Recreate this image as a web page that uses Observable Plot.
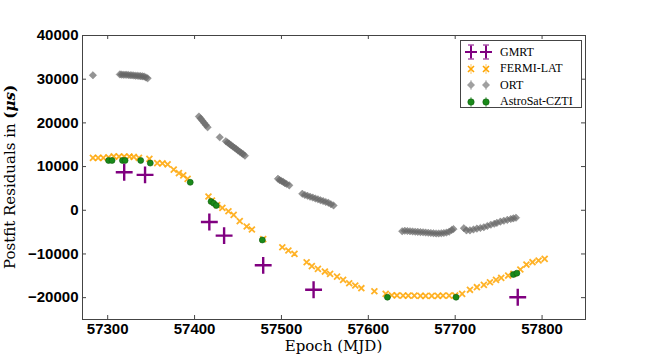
<!DOCTYPE html>
<html>
<head>
<meta charset="utf-8">
<script src="https://cdn.jsdelivr.net/npm/d3@7"></script>
<script src="https://cdn.jsdelivr.net/npm/@observablehq/plot@0.6"></script>
<style>
  body { margin: 0; background: #fff; }
  #wrap { position: relative; width: 650px; height: 355px; }
  #legend { position: absolute; left: 460px; top: 40px; width: 120px; height: 66px;
    border: 1px solid #444; background: #fff; font-family: "Liberation Serif", serif; font-size: 12px; }
  #legend .row { position: absolute; left: 0; height: 16px; display: flex; align-items: center; }
  #legend svg { display: block; }
  #legend span { position: absolute; left: 39px; white-space: nowrap; }
</style>
</head>
<body>
<div id="wrap"></div>
<script>
// ---------- data ----------
const xTicks = [57300, 57400, 57500, 57600, 57700, 57800];
const yTicks = [-20000, -10000, 0, 10000, 20000, 30000, 40000];

const seriesNames = ["GMRT", "FERMI-LAT", "ORT", "AstroSat-CZTI"];

const gmrtMjd = [57319, 57343, 57417, 57434, 57479, 57537, 57772];
const gmrtRes = [8700, 8100, -2700, -5800, -12600, -18200, -19900];

const fermiMjd = [57283, 57289, 57295, 57301, 57307, 57313, 57319, 57325, 57330, 57336,
  57348, 57357, 57363, 57369, 57376, 57382, 57387, 57392,
  57416, 57420, 57426, 57432, 57439, 57445, 57452, 57460, 57466,
  57479, 57501, 57508, 57515, 57529, 57535, 57542, 57550, 57556,
  57564, 57571, 57578, 57585, 57592, 57607, 57620,
  57627, 57633, 57640, 57646, 57653, 57660, 57666, 57673, 57680, 57686, 57693, 57700,
  57708, 57717, 57725, 57733, 57740, 57747, 57753, 57761, 57767, 57775, 57782, 57789, 57796, 57803];
const fermiRes = [12000, 12000, 12000, 12100, 12350, 12300, 12300, 12300, 12200, 12000,
  11780, 10800, 10750, 10500, 9300, 8500, 8000, 7200,
  3150, 2200, 1200, 560, -220, -1040, -2500, -3720, -4400,
  -6600, -8460, -9210, -9970, -11900, -12800, -13400, -14020, -14550,
  -15170, -15930, -16700, -17220, -17840, -18530, -19130,
  -19450, -19500, -19550, -19550, -19550, -19600, -19600, -19600, -19600, -19550, -19550, -19500,
  -19130, -18200, -17610, -17080, -16470, -15920, -15460, -14940, -14550, -13560, -12420, -11890, -11500, -11110];

const ortMjd = [57283,
  57314, 57316, 57318, 57320, 57322, 57324, 57326, 57328, 57330, 57332, 57334, 57336, 57338, 57340, 57342, 57344, 57346,
  57405, 57407, 57409, 57411, 57413, 57415, 57429,
  57436, 57438, 57440, 57442, 57444, 57446, 57448, 57450, 57452, 57454, 57456, 57458,
  57496, 57498, 57500, 57502, 57504, 57506, 57509,
  57524, 57527, 57530, 57533, 57536, 57539, 57542, 57545, 57548, 57551, 57554, 57557, 57560,
  57639, 57642, 57645, 57648, 57651, 57654, 57657, 57660, 57663, 57666, 57669, 57672, 57675, 57678, 57681, 57684, 57687, 57690, 57693, 57696, 57698,
  57710, 57713, 57717, 57721, 57725, 57729, 57733, 57737, 57741, 57745, 57748, 57752, 57756, 57760, 57764, 57767, 57770];
const ortRes = [30900,
  31100, 31050, 31000, 31000, 31000, 30950, 30900, 30900, 30850, 30800, 30800, 30750, 30700, 30650, 30600, 30400, 30200,
  21450, 21000, 20500, 20000, 19500, 19000, 16700,
  15800, 15500, 15200, 14900, 14600, 14300, 14000, 13700, 13400, 13100, 12800, 12500,
  7200, 6900, 6700, 6500, 6200, 6000, 5700,
  3770, 3500, 3300, 3100, 2900, 2700, 2500, 2300, 2100, 1900, 1700, 1400, 1100,
  -4800, -4700, -4750, -4800, -4850, -4900, -4950, -5000, -5050, -5100, -5150, -5200, -5250, -5300, -5300, -5250, -5200, -5100, -4900, -4500, -4300,
  -4100, -4600, -4600, -4400, -4200, -4050, -3880, -3600, -3300, -3100, -2880, -2600, -2400, -2200, -2000, -1850, -1700];

const cztiMjd = [57301, 57305, 57317, 57320, 57338, 57349, 57395, 57419, 57422, 57425, 57478, 57622, 57701, 57767, 57771];
const cztiRes = [11400, 11400, 11400, 11400, 11400, 10800, 6400, 2000, 1600, 1100, -6800, -19900, -19900, -14700, -14400];

// ---------- build tables ----------
const zip = (xs, ys) => xs.map((x, i) => ({x, y: ys[i]}));
const gmrt = zip(gmrtMjd, gmrtRes);
const fermi = zip(fermiMjd, fermiRes);
const ort = zip(ortMjd, ortRes);
const czti = zip(cztiMjd, cztiRes);

const W = 650, H = 355, mL = 82, mR = 65, mT = 35, mB = 36;
const fw = W - mL - mR, fh = H - mT - mB, tk = 4;
const axisColor = "#444";

const chart = Plot.plot({
  width: W, height: H,
  marginLeft: mL, marginRight: mR, marginTop: mT, marginBottom: mB,
  style: {fontFamily: "'Liberation Sans', Arial, sans-serif", fontSize: "15px", fontWeight: "bold", color: "#000", background: "#fff"},
  x: {domain: [57271, 57850], ticks: xTicks, tickFormat: d => String(d), tickSize: 0, tickPadding: 4, label: null},
  y: {domain: [-25000, 40000], ticks: yTicks, tickFormat: d => d < 0 ? "\u2212" + Math.abs(d) : String(d), tickSize: 0, tickPadding: 4, label: null},
  marks: [
    Plot.frame({stroke: axisColor}),
    Plot.tickX(xTicks, {x: d => d, stroke: axisColor, insetTop: fh - tk}),
    Plot.tickX(xTicks, {x: d => d, stroke: axisColor, insetBottom: fh - tk}),
    Plot.tickY(yTicks, {y: d => d, stroke: axisColor, insetRight: fw - tk}),
    Plot.tickY(yTicks, {y: d => d, stroke: axisColor, insetLeft: fw - tk}),
    Plot.dot(ort, {x: "x", y: "y", symbol: "diamond2", r: 3.4, fill: "#666", fillOpacity: 0.7, stroke: "#666", strokeOpacity: 0.5, strokeWidth: 0.6}),
    Plot.dot(fermi, {x: "x", y: "y", symbol: "times", r: 2.8, stroke: "orange", strokeWidth: 1.8, strokeOpacity: 0.85}),
    Plot.dot(czti, {x: "x", y: "y", symbol: "circle", r: 3, fill: "#1a8a1a", stroke: "#0d5c0d", strokeWidth: 0.6}),
    Plot.dot(gmrt, {x: "x", y: "y", symbol: "plus", r: 5.5, stroke: "purple", strokeWidth: 2.4})
  ]
});

const wrap = document.getElementById("wrap");
wrap.appendChild(chart);

// axis titles
const svg = d3.select(chart);
svg.append("text")
  .attr("x", mL + fw / 2).attr("y", H - 4)
  .attr("text-anchor", "middle")
  .style("font-family", "'DejaVu Serif', serif").style("font-size", "15px").style("font-weight", "normal")
  .text("Epoch (MJD)");
const yl = svg.append("text")
  .attr("transform", `translate(15,${mT + fh / 2}) rotate(-90)`)
  .attr("text-anchor", "middle")
  .style("font-family", "'DejaVu Serif', serif").style("font-size", "15px").style("font-weight", "normal");
yl.append("tspan").text("Postfit Residuals in ");
yl.append("tspan").style("font-weight", "bold").text("(");
yl.append("tspan").style("font-weight", "bold").style("font-style", "italic").text("\u03bcs");
yl.append("tspan").style("font-weight", "bold").text(")");

// legend
const legend = document.createElement("div");
legend.id = "legend";
wrap.appendChild(legend);
const symbols = {
  "GMRT": `<line x1="0" y1="-7" x2="0" y2="7" stroke="purple" stroke-width="1"/><line x1="-3" y1="-7" x2="3" y2="-7" stroke="purple"/><line x1="-3" y1="7" x2="3" y2="7" stroke="purple"/><path d="M-6,0H6M0,-6V6" stroke="purple" stroke-width="2"/>`,
  "FERMI-LAT": `<line x1="0" y1="-5" x2="0" y2="5" stroke="orange" stroke-opacity="0.6"/><path d="M-3,-3L3,3M-3,3L3,-3" stroke="orange" stroke-width="1.6"/>`,
  "ORT": `<line x1="0" y1="-5" x2="0" y2="5" stroke="#bbb"/><path d="M0,-4L4,0L0,4L-4,0Z" fill="#a0a0a0"/>`,
  "AstroSat-CZTI": `<line x1="0" y1="-5" x2="0" y2="5" stroke="#1a8a1a" stroke-opacity="0.6"/><circle r="3.2" fill="#1a8a1a" stroke="#0d5c0d" stroke-width="0.6"/>`
};
seriesNames.forEach((name, i) => {
  const row = document.createElement("div");
  row.className = "row";
  row.style.top = (3 + i * 16.5) + "px";
  row.style.width = "120px";
  row.innerHTML = `<svg width="36" height="16" viewBox="0 -8 36 16">
      <g transform="translate(10,0)">${symbols[name]}</g>
      <g transform="translate(25,0)">${symbols[name]}</g></svg><span>${name}</span>`;
  legend.appendChild(row);
});
</script>
</body>
</html>
